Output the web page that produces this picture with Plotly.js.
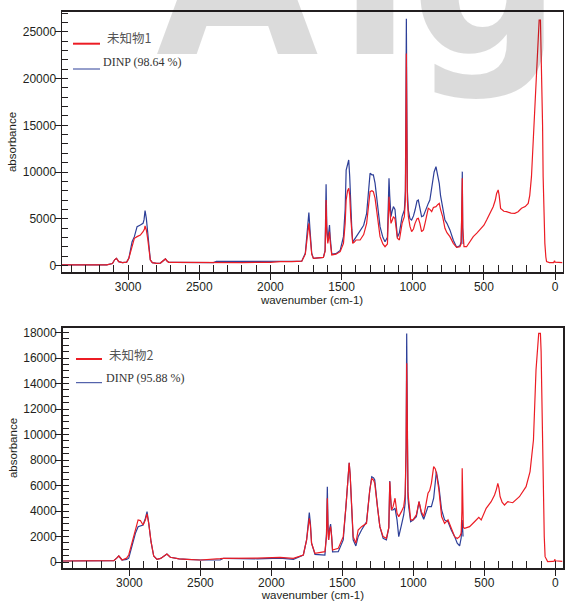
<!DOCTYPE html>
<html>
<head>
<meta charset="utf-8">
<script src="https://cdn.plot.ly/plotly-3.0.1.min.js"></script>
<style>html,body{margin:0;padding:0;background:#fff;}#chart{width:565px;height:601px;}</style>
</head>
<body>
<div id="chart"></div>
<script>
// ---------- DATA ----------
// Top panel: unknown sample 1 (red) and DINP reference (blue)
const unk1Name = "未知物1";
const dinp1Name = "DINP (98.64 %)";
const unk1Wn = [3470,3300,3150,3110,3095,3082,3066,3040,3010,2995,2980,2972,2956,2937,2914,2895,2885,2881,2876,2872,2862,2855,2844,2830,2800,2773,2745,2738,2728,2715,2680,2540,2380,2200,2000,1932,1850,1780,1755,1740,1730,1722,1710,1698,1628,1616,1609,1604,1597,1590,1585,1580,1569,1540,1510,1487,1475,1468,1458,1450,1443,1436,1428,1422,1410,1398,1370,1345,1324,1310,1300,1287,1277,1265,1253,1240,1230,1210,1195,1178,1172,1167,1162,1153,1145,1136,1125,1115,1108,1094,1075,1059,1052,1048,1045,1042,1038,1031,1020,1008,995,984,970,961,950,938,925,914,900,891,880,867,855,837,825,814,805,790,774,760,739,715,692,669,660,655,652,649,645,640,622,600,575,550,528,500,481,460,435,420,411,400,393,383,360,341,310,283,260,236,210,189,178,166,155,142,130,126,120,112,103,98,93,88,84,78,72,65,60,40,10,4,0,-52];
const unk1Abs = [50,60,60,200,600,760,400,300,350,760,1500,2000,2900,3080,3250,3610,3900,4220,4000,3790,2800,2000,580,300,220,250,550,690,500,330,330,300,295,300,330,400,400,450,1200,3500,4500,3200,1200,750,860,1500,7000,3500,2360,3000,3610,2500,1120,1200,1470,2360,4500,7000,8000,8250,7500,5220,3500,2360,2500,2720,2720,3300,4500,6500,7895,8000,7895,7200,5930,4300,3080,2300,2000,2300,4500,7360,6000,4500,4800,5220,5000,3800,2900,2720,4500,5220,7000,15000,22700,15000,7000,5250,4200,3610,3900,4500,5000,5040,4500,3610,3800,4500,5500,6110,6000,5750,6200,6290,6500,6640,6000,5220,3970,3500,3080,2360,1935,2000,2300,5000,9320,4000,2200,2000,2000,2500,3080,3450,3790,4300,4860,5500,6290,7000,7710,8075,7500,6110,5800,5750,5600,5570,5750,6110,6300,6640,7500,9500,13000,16640,20000,21636,23500,26275,26275,23000,20200,15000,9500,5000,2360,900,400,300,300,500,350,300];
const dinp1Wn = [3470,3300,3150,3110,3095,3082,3066,3040,3010,2995,2980,2972,2956,2945,2937,2914,2895,2888,2881,2876,2872,2862,2855,2844,2830,2800,2773,2745,2738,2728,2715,2680,2540,2400,2380,2200,2000,1932,1850,1780,1755,1740,1730,1722,1710,1698,1628,1616,1609,1604,1597,1590,1585,1580,1569,1540,1510,1487,1475,1468,1458,1450,1443,1436,1428,1422,1410,1398,1370,1345,1324,1310,1300,1287,1277,1265,1253,1240,1230,1210,1195,1178,1172,1167,1162,1153,1145,1136,1125,1115,1108,1094,1075,1059,1052,1048,1045,1042,1038,1031,1020,1008,995,984,970,961,950,938,925,914,900,891,880,867,850,837,825,814,805,790,774,760,739,715,692,669,660,655,652,649,646];
const dinp1Abs = [50,60,60,200,600,760,400,300,350,760,1800,2540,3080,3800,4150,4330,4500,4900,5860,5400,5040,3500,2540,600,300,220,250,550,690,500,330,330,300,300,420,420,420,420,420,450,1300,4300,5650,3800,1300,750,860,1600,8700,4200,2600,3600,4330,3000,1200,1250,1600,3080,6000,10215,10800,11285,9500,5930,3800,2500,2800,3080,3790,4300,5576,8000,9857,9700,9700,8800,7360,5500,4150,3000,2540,3000,6000,9322,7500,5220,5800,6290,6000,4000,3000,3500,5220,5930,8000,18000,26400,18000,8000,5900,5000,4860,5300,5930,6900,7000,6000,5220,5300,5800,6400,6640,7000,8430,10000,10570,9800,8790,7500,6290,4860,4500,3800,2700,1935,2100,2500,6000,10040,4000,2300];

// Bottom panel: unknown sample 2 (red) and DINP reference (blue)
const unk2Name = "未知物2";
const dinp2Name = "DINP (95.88 %)";
const unk2Wn = [3470,3300,3110,3090,3075,3052,3020,3005,2981,2958,2939,2923,2904,2888,2876,2864,2848,2829,2806,2780,2759,2736,2712,2650,2595,2501,2361,2337,2100,1939,1845,1775,1752,1740,1733,1725,1717,1693,1623,1612,1606,1601,1597,1590,1583,1576,1569,1529,1494,1475,1464,1452,1445,1438,1430,1424,1405,1389,1365,1330,1307,1293,1280,1272,1253,1236,1213,1190,1173,1166,1160,1154,1143,1129,1115,1103,1084,1068,1058,1051,1047,1043,1038,1033,1019,1002,979,960,944,927,910,897,885,873,857,845,838,820,801,780,756,733,709,691,674,663,658,656,653,648,639,604,569,539,522,487,452,428,415,405,397,389,375,358,335,300,253,206,178,154,136,125,117,105,100,96,90,84,78,72,54,20,8,4,0,-50];
const unk2Abs = [80,100,105,300,470,157,300,550,1590,2510,3300,3250,2900,3300,3770,3030,1590,470,210,280,420,630,370,250,210,157,260,290,300,368,290,550,1730,3000,3430,2800,1470,680,810,2000,5000,2500,1730,2400,2770,2000,940,1070,1990,4340,6430,7790,6800,4860,3000,1990,1470,2510,2770,3030,5650,6560,6400,6170,4340,2770,1990,1860,2700,6300,5000,4080,4340,5000,3820,3560,3950,4340,5200,9000,15580,9000,5500,4860,3300,3300,3690,4730,3950,3560,4600,5390,5600,6170,7480,7300,6960,5650,3560,3030,3300,2640,1990,1850,1990,2250,4000,7350,4000,2700,2640,2770,3160,3500,3300,4210,4730,5260,5700,6170,5800,5120,4700,4470,4730,4650,5120,5910,7090,9570,15060,17000,17930,17930,16500,13750,9000,4600,2000,420,30,50,60,210,100,50];
const dinp2Wn = [3470,3300,3110,3090,3075,3052,3020,3005,2981,2958,2939,2923,2904,2888,2876,2864,2848,2829,2806,2780,2759,2736,2712,2650,2595,2501,2361,2337,2100,1939,1845,1775,1752,1740,1733,1725,1717,1693,1623,1612,1606,1601,1597,1590,1583,1576,1569,1529,1494,1475,1464,1452,1445,1438,1430,1424,1405,1389,1365,1330,1307,1293,1280,1272,1253,1236,1213,1190,1173,1166,1160,1154,1143,1129,1115,1103,1084,1068,1058,1051,1047,1043,1038,1033,1019,1002,979,960,944,927,910,897,873,857,845,838,820,801,780,756,733,709,691,674,663,656,650];
const dinp2Abs = [80,100,105,300,470,157,200,300,1330,2250,2770,2820,2900,3420,3950,3030,1590,470,210,280,420,630,370,250,210,157,157,290,250,300,210,550,1730,3300,3870,3000,1470,600,550,2200,5910,2800,1730,2600,2980,2100,800,810,1730,4340,6430,7790,6800,4860,2800,1730,1260,1990,2510,3160,5650,6690,6600,6430,4340,2770,1860,1730,2700,6350,5000,4080,4080,4210,3300,1990,2900,3690,4600,9000,17930,9000,5000,4340,3160,3300,3560,4730,3820,3350,3900,4340,4340,5000,6300,7090,5910,4080,3300,3160,2510,1990,1470,1260,1900,3300,2000];

const xTitle = "wavenumber (cm-1)";
const yTitle = "absorbance";
const watermark = ["A", "l", "g"];

// ---------- STYLE / LAYOUT ----------
const W = 565, H = 601;
const PX = p => p / W;
const PY = p => 1 - p / H;
const RED = "#ec1c24", BLUE = "#2d3f98", INK = "#231f20";
const tickFont = {family: "Liberation Sans, Arial, sans-serif", size: 12, color: INK};
const titleFont = {family: "Liberation Sans, Arial, sans-serif", size: 11.5, color: INK};
const X_RANGE = [3468, -52];
const Y1_RANGE = [-675, 27100];
const Y2_RANGE = [-447, 18330];

function xAxis(domain, anchor) {
  return {
    domain: domain, anchor: anchor, range: X_RANGE,
    tick0: 0, dtick: 500, ticks: "outside", ticklen: 7, tickwidth: 1, tickcolor: INK,
    ticklabelstandoff: -4,
    minor: {tick0: 0, dtick: 100, ticks: "inside", ticklen: 7, tickwidth: 1, tickcolor: INK},
    showline: true, linecolor: INK, linewidth: 1.5, mirror: true,
    showgrid: false, zeroline: false, tickfont: tickFont, tickformat: "d",
    title: {text: xTitle, font: titleFont, standoff: 2}
  };
}
function yAxis(domain, anchor, range, dtick, mdtick, lw) {
  return {
    domain: domain, anchor: anchor, range: range,
    tick0: 0, dtick: dtick, ticks: "outside", ticklen: 6, tickwidth: 1, tickcolor: INK,
    ticklabelstandoff: -4,
    minor: {tick0: 0, dtick: mdtick, ticks: "inside", ticklen: 6, tickwidth: 1, tickcolor: INK},
    showline: true, linecolor: INK, linewidth: lw, mirror: true,
    showgrid: false, zeroline: false, tickfont: tickFont, tickformat: "d",
    title: {text: yTitle, font: titleFont, standoff: 3}
  };
}

const traces = [
  {x: dinp1Wn, y: dinp1Abs, xaxis: "x", yaxis: "y", mode: "lines", name: dinp1Name, line: {color: BLUE, width: 1.2}, showlegend: false},
  {x: unk1Wn, y: unk1Abs, xaxis: "x", yaxis: "y", mode: "lines", name: unk1Name, line: {color: RED, width: 1.2}, showlegend: false},
  {x: dinp2Wn, y: dinp2Abs, xaxis: "x2", yaxis: "y2", mode: "lines", name: dinp2Name, line: {color: BLUE, width: 1.2}, showlegend: false},
  {x: unk2Wn, y: unk2Abs, xaxis: "x2", yaxis: "y2", mode: "lines", name: unk2Name, line: {color: RED, width: 1.2}, showlegend: false}
];

function legendItems(x0, x1, yRed, yBlue, txRed, tyRed, txBlue, tyBlue, redName, blueName) {
  const shapes = [
    {type: "line", xref: "paper", yref: "paper", x0: PX(x0), x1: PX(x1), y0: PY(yRed), y1: PY(yRed), line: {color: RED, width: 2}},
    {type: "line", xref: "paper", yref: "paper", x0: PX(x0), x1: PX(x1), y0: PY(yBlue), y1: PY(yBlue), line: {color: BLUE, width: 1}}
  ];
  const anns = [
    {xref: "paper", yref: "paper", x: PX(txRed), y: PY(tyRed), xanchor: "left", yanchor: "middle", showarrow: false, text: redName,
     font: {family: "Noto Sans CJK SC, Liberation Serif, serif", size: 12.5, color: "#555"}},
    {xref: "paper", yref: "paper", x: PX(txBlue), y: PY(tyBlue), xanchor: "left", yanchor: "middle", showarrow: false, text: blueName,
     font: {family: "Liberation Serif, Times New Roman, serif", size: 12, color: "#333"}}
  ];
  return {shapes, anns};
}
const lg1 = legendItems(73, 100, 43.7, 69, 105, 38, 101, 62, unk1Name, dinp1Name);
const lg2 = legendItems(76, 102, 359, 382.7, 107, 354, 103.5, 377.7, unk2Name, dinp2Name);

const wmFont = {family: "DejaVu Sans, sans-serif", size: 210, color: "rgba(0,0,0,0.14)"};
const wmLeft = [155, 338, 410];
const wmAnns = watermark.map((ch, i) => ({
  xref: "paper", yref: "paper", x: PX(wmLeft[i]), y: PY(105), xanchor: "left", yanchor: "bottom",
  showarrow: false, text: "<b>" + ch + "</b>", font: wmFont, borderpad: 0
}));

const layout = {
  width: W, height: H,
  margin: {l: 0, r: 0, t: 0, b: 0},
  paper_bgcolor: "#fff", plot_bgcolor: "#fff",
  showlegend: false,
  xaxis: xAxis([PX(61.5), PX(562.5)], "y"),
  yaxis: yAxis([PY(271.7), PY(12.3)], "x", Y1_RANGE, 5000, 1000, 1),
  xaxis2: xAxis([PX(63), PX(562.7)], "y2"),
  yaxis2: yAxis([PY(567.7), PY(328.3)], "x2", Y2_RANGE, 2000, 500, 2),
  shapes: lg1.shapes.concat(lg2.shapes),
  annotations: wmAnns.concat(lg1.anns).concat(lg2.anns)
};

Plotly.newPlot("chart", traces, layout, {displayModeBar: false});
</script>
</body>
</html>
